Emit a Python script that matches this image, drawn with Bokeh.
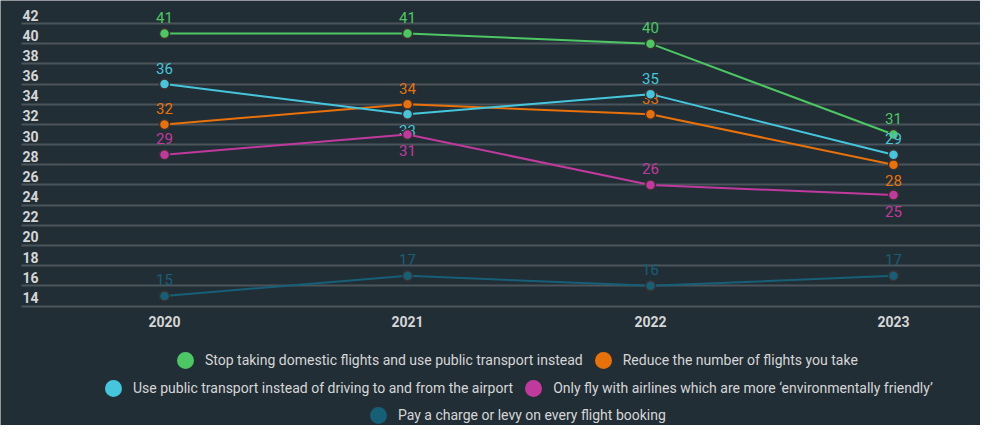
from bokeh.plotting import figure
from bokeh.models import Range1d, FixedTicker, Legend, LegendItem, ColumnDataSource
from bokeh.core.properties import value
from bokeh.embed import file_html
from bokeh.resources import INLINE

# ---------------- data ----------------
years = [2020, 2021, 2022, 2023]
series_names = [
    "Stop taking domestic flights and use public transport instead",
    "Reduce the number of flights you take",
    "Use public transport instead of driving to and from the airport",
    "Only fly with airlines which are more \u2018environmentally friendly\u2019",
    "Pay a charge or levy on every flight booking",
]
stop_domestic = [41, 41, 40, 31]
reduce_flights = [32, 34, 33, 28]
public_transport = [36, 33, 35, 29]
green_airlines = [29, 31, 26, 25]
pay_levy = [15, 17, 16, 17]
y_ticks = [14, 16, 18, 20, 22, 24, 26, 28, 30, 32, 34, 36, 38, 40, 42]

# ---------------- style ----------------
BG = "#222e36"
GRID = "#4a545a"
TXT = "#d6d6d6"
FONT = "Roboto"
colors = ["#4cc764", "#e8710a", "#46c6dc", "#c03a9e", "#175f77"]
all_values = [stop_domestic, reduce_flights, public_transport, green_airlines, pay_levy]
# which value labels sit below their point (series index, year index)
below = {(1, 3), (2, 1), (3, 1), (3, 3)}

W, H = 980, 425
px_per_year = 243.0
x_start = years[0] - 164.0 / px_per_year
x_end = x_start + W / px_per_year
grid_left = years[0] - 143.0 / px_per_year
px_per_unit = 10.09
y_end = max(y_ticks) + 23.0 / px_per_unit
y_start = y_end - H / px_per_unit

p = figure(width=W, height=H, output_backend="svg", toolbar_location=None,
           x_range=Range1d(x_start, x_end), y_range=Range1d(y_start, y_end),
           x_axis_location=None, y_axis_location=None,
           min_border_left=0, min_border_right=0, min_border_top=0, min_border_bottom=0)
p.background_fill_color = BG
p.border_fill_color = BG
p.outline_line_color = None
p.xgrid.visible = False
p.ygrid.ticker = FixedTicker(ticks=y_ticks)
p.ygrid.grid_line_color = GRID
p.ygrid.grid_line_width = 2
p.ygrid.cross_bounds = (grid_left, x_end + 1)

# y tick labels (inside plot, above their grid line)
p.text(x=[grid_left] * len(y_ticks), y=y_ticks, text=[str(t) for t in y_ticks],
       text_font=value(FONT), text_font_size="14px", text_font_style="bold",
       text_color=TXT, text_align="left", text_baseline="bottom",
       x_offset=1, y_offset=-3)

# x tick labels
p.text(x=years, y=[min(y_ticks)] * len(years), text=[str(y) for y in years],
       text_font=value(FONT), text_font_size="14px", text_font_style="bold",
       text_color=TXT, text_align="center", text_baseline="middle", y_offset=15)

legend_renderers = []
for i, (name, vals, c) in enumerate(zip(series_names, all_values, colors)):
    p.line(years, vals, line_color=c, line_width=2)
    p.scatter(years, vals, size=10, fill_color=c, line_color="#3a3030", line_width=1.5)
    offs = [16 if (i, j) in below else -16 for j in range(len(years))]
    src = ColumnDataSource(dict(x=years, y=vals, t=[str(v) for v in vals], off=offs))
    p.text(x="x", y="y", text="t", y_offset="off", source=src,
           text_font=value(FONT), text_font_size="15px", text_color=c,
           text_align="center", text_baseline="middle")
    # legend-only marker (hidden in the plot itself)
    lr = p.scatter(years, vals, size=8, fill_color=c, line_color=c, line_width=9, visible=False)
    legend_renderers.append(lr)

rows = [[0, 1], [2, 3], [4]]
row_locations = [(175, 55), (103, 27), (368, 0)]
for row, loc in zip(rows, row_locations):
    leg = Legend(items=[LegendItem(label=series_names[k], renderers=[legend_renderers[k]]) for k in row],
                 orientation="horizontal", location=loc, margin=0, padding=0,
                 spacing=10, label_standoff=10, glyph_width=20, glyph_height=20, label_height=20,
                 label_text_font=FONT, label_text_font_size="14px", label_text_color=TXT,
                 background_fill_alpha=0, border_line_alpha=0)
    p.add_layout(leg)

open("out.html", "w").write(file_html(p, INLINE))
